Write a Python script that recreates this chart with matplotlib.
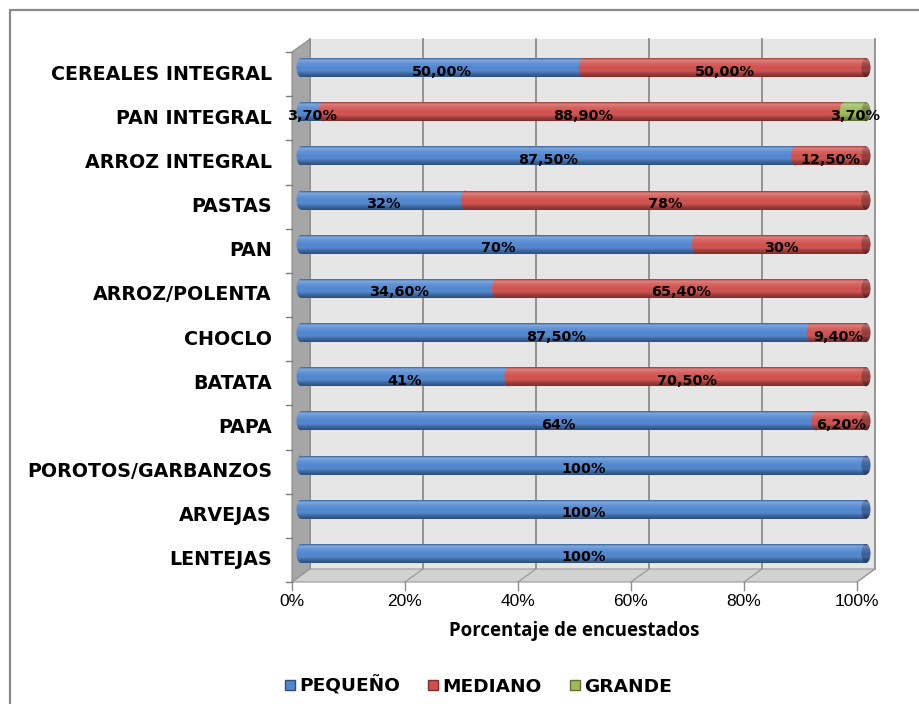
import numpy as np
import matplotlib
matplotlib.use("Agg")
import matplotlib.pyplot as plt
from matplotlib.patches import Polygon, Rectangle, Ellipse
from matplotlib.lines import Line2D
from matplotlib.colors import to_rgb

# ---- data (top row first) ----
categories = ["CEREALES INTEGRAL", "PAN INTEGRAL", "ARROZ INTEGRAL", "PASTAS", "PAN",
              "ARROZ/POLENTA", "CHOCLO", "BATATA", "PAPA", "POROTOS/GARBANZOS",
              "ARVEJAS", "LENTEJAS"]
pequeno = [50.0, 3.7, 87.5, 32, 70, 34.6, 87.5, 41, 64, 100, 100, 100]
mediano = [50.0, 88.9, 12.5, 78, 30, 65.4, 9.4, 70.5, 6.2, 0, 0, 0]
grande = [0, 3.7, 0, 0, 0, 0, 0, 0, 0, 0, 0, 0]
pequeno_lbl = ["50,00%", "3,70%", "87,50%", "32%", "70%", "34,60%", "87,50%",
               "41%", "64%", "100%", "100%", "100%"]
mediano_lbl = ["50,00%", "88,90%", "12,50%", "78%", "30%", "65,40%", "9,40%",
               "70,50%", "6,20%", "", "", ""]
grande_lbl = ["", "3,70%", "", "", "", "", "", "", "", "", "", ""]
series_names = ["PEQUEÑO", "MEDIANO", "GRANDE"]
xticks = [0, 20, 40, 60, 80, 100]
xtick_labels = ["0%", "20%", "40%", "60%", "80%", "100%"]

colors = ["#4f86d0", "#d0504c", "#9bbb59"]

W, H = 920, 704
fig = plt.figure(figsize=(W / 100, H / 100), dpi=100)
fig.patch.set_facecolor("white")

# plot area (bars sit at mid depth of the 3-D box)
L, R, T, B = 301, 866, 45.5, 575.5
ax = fig.add_axes([L / W, 1 - B / H, (R - L) / W, (B - T) / H])
ax.set_xlim(0, 100)
n = len(categories)
ax.set_ylim(-0.5, n - 0.5)
ax.axis("off")

px_x = (R - L) / 100.0        # pixels per x unit
px_y = (B - T) / n            # pixels per row
dx = 9 / px_x                 # half depth, x
dy = 6.5 / px_y               # half depth, y

# ---- 3-D box ----
back = Rectangle((dx, -0.5 + dy), 100, n, facecolor="#e6e6e6", edgecolor="none",
                 zorder=0, clip_on=False)
ax.add_patch(back)
left_wall = Polygon([(-dx, -0.5 - dy), (dx, -0.5 + dy), (dx, n - 0.5 + dy), (-dx, n - 0.5 - dy)],
                    closed=True, facecolor="#a6a6a6", edgecolor="#8c8c8c", lw=0.8,
                    zorder=0.5, clip_on=False)
ax.add_patch(left_wall)
floor = Polygon([(-dx, -0.5 - dy), (100 - dx, -0.5 - dy), (100 + dx, -0.5 + dy), (dx, -0.5 + dy)],
                closed=True, facecolor="#d2d2d2", edgecolor="#9a9a9a", lw=0.8,
                zorder=0.5, clip_on=False)
ax.add_patch(floor)
for v in xticks:
    # gridlines on back wall
    ax.add_line(Line2D([v + dx, v + dx], [-0.5 + dy, n - 0.5 + dy], color="#8c8c8c",
                       lw=1.3, zorder=0.3, clip_on=False))
    # lines across the floor
    ax.add_line(Line2D([v - dx, v + dx], [-0.5 - dy, -0.5 + dy], color="#9a9a9a",
                       lw=0.9, zorder=0.6, clip_on=False))
    # tick marks under the front edge
    ax.add_line(Line2D([v - dx, v - dx], [-0.5 - dy, -0.5 - dy - 8 / px_y], color="#8c8c8c",
                       lw=1.0, zorder=0.6, clip_on=False))
for k in range(n + 1):
    yb = k - 0.5 - dy
    ax.add_line(Line2D([-dx - 6 / px_x, -dx], [yb, yb], color="#7f7f7f", lw=1.0,
                       zorder=0.6, clip_on=False))

# ---- cylinder shading overlay ----
tt = np.linspace(0, 1, 64)
stops_t = [0.0, 0.1, 0.3, 0.55, 0.8, 1.0]
stops_c = [(0, 0, 0, 0.25), (1, 1, 1, 0.28), (1, 1, 1, 0.10), (1, 1, 1, 0.0),
           (0, 0, 0, 0.20), (0, 0, 0, 0.42)]
grad = np.zeros((64, 1, 4))
for ch in range(4):
    grad[:, 0, ch] = np.interp(tt, stops_t, [c[ch] for c in stops_c])


def shade(patch, y, h):
    im = ax.imshow(grad, extent=(-3, 103, y - h / 2, y + h / 2), aspect="auto",
                   interpolation="bilinear", zorder=patch.get_zorder() + 0.01,
                   origin="upper")
    im.set_clip_box(fig.bbox)
    im.set_clip_path(patch)


def darker(c, f=0.7):
    r, g, b = to_rgb(c)
    return (r * f, g * f, b * f)


bh = 0.43
cap_w = 9 / px_x
series = [pequeno, mediano, grande]
labels = [pequeno_lbl, mediano_lbl, grande_lbl]
z = 2
for i, cat in enumerate(categories):
    y = n - 1 - i
    total = pequeno[i] + mediano[i] + grande[i]
    left = 0.0
    last = None
    for s, vals in enumerate(series):
        w = vals[i] / total * 100
        if w <= 0:
            continue
        bars = ax.barh([y], [w], left=[left], height=bh, color=colors[s],
                       edgecolor="none", zorder=z)
        rect = bars.patches[0]
        shade(rect, y, bh)
        cap = Ellipse((left, y), cap_w, bh, facecolor=colors[s], edgecolor="none",
                      zorder=z + 0.5, clip_on=False)
        ax.add_patch(cap)
        shade(cap, y, bh)
        if labels[s][i]:
            ax.text(left + w / 2, y - 0.09, labels[s][i], ha="center", va="center",
                    fontsize=10.4, fontweight="bold", color="black",
                    family="DejaVu Sans", zorder=50)
        last = s
        left += w
        z += 1
    end = Ellipse((100, y), cap_w, bh, facecolor=darker(colors[last], 0.72),
                  edgecolor="none", zorder=z + 0.5, clip_on=False)
    ax.add_patch(end)
    shade(end, y, bh)
    z += 1

# ---- category labels (front plane) ----
for i, cat in enumerate(categories):
    y = n - 1 - i - dy
    ax.text(-dx - 20 / px_x, y, cat, ha="right", va="center", fontsize=13.7,
            fontweight="bold", family="DejaVu Sans", color="black")

# ---- x tick labels and title ----
for v, t in zip(xticks, xtick_labels):
    ax.text(v - dx, -0.5 - dy - 19 / px_y, t, ha="center", va="center", fontsize=12.5,
            family="Liberation Sans", color="black")
ax.text(50 - dx, -0.5 - dy - 49 / px_y, "Porcentaje de encuestados", ha="center",
        va="center", fontsize=13.4, fontweight="bold", family="Open Sans", color="black")

# ---- legend ----
handles = [Line2D([], [], marker="s", linestyle="none", markersize=7.5,
                  markerfacecolor=c, markeredgecolor=darker(c, 0.6), markeredgewidth=1)
           for c in colors]
fig.legend(handles, series_names, loc="center", bbox_to_anchor=(477 / W, 1 - 686 / H),
           ncol=3, frameon=False, handletextpad=0.1, columnspacing=1.4,
           handlelength=0.8, prop={"family": "DejaVu Sans", "weight": "bold", "size": 13.3})

# ---- outer border ----
fig.add_artist(Rectangle((10 / W, -0.1), 1.2, 1 - 10 / H + 0.1, transform=fig.transFigure,
                         facecolor="none", edgecolor="#8a8a8a", lw=1.6))

fig.savefig("out.png", dpi=100, facecolor="white")
